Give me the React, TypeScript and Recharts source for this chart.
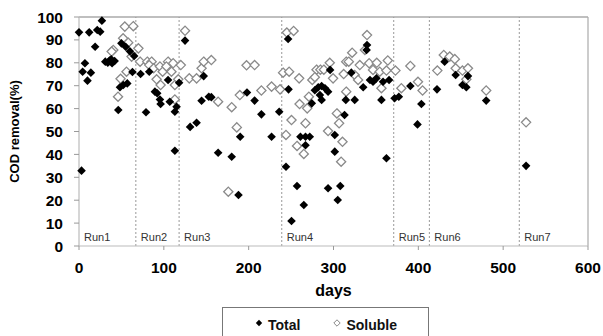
import React from 'react';
import {
  ScatterChart,
  Scatter,
  XAxis,
  YAxis,
  ReferenceLine,
  Legend,
} from 'recharts';

// [day, COD removal %]
const totalPoints: [number, number][] = [
  [0, 93.3], [3, 32.9], [12, 93.3], [21.5, 94.3], [25, 93.6], [27, 98.4], [19, 87],
  [7, 79.8], [4.3, 76.1], [14, 75.7], [10, 72.2], [31, 80.5], [34, 80], [36, 81],
  [39, 79.8], [42, 80.8], [38, 81.5], [46.3, 59.4], [48.3, 69.3], [52.2, 70.3],
  [56.9, 71], [50, 88.5], [55, 87], [60, 85], [65, 83], [63, 76],
  [72.6, 75.1], [79, 58.4], [82.8, 76.1], [89.5, 67.4], [92.2, 66.7], [95.4, 64],
  [96.2, 62], [105, 72.5], [107, 63], [113, 41.6], [115, 60.8], [113, 58.6], [118, 71.3],
  [125, 89.7], [131, 52], [138.6, 53.8], [144.5, 63.4], [147, 74.2], [153, 65.2],
  [156, 65], [164, 40.7], [180, 39], [188, 22.3], [190, 47.7], [198, 67], [207, 63.5],
  [215, 57.5], [227, 47.7], [236, 58.6],
  [244, 34.6], [246.5, 90.4], [247, 68.4], [250.5, 10.9], [257, 26.2], [265, 17.9],
  [261, 47.7], [267, 47.7], [272, 47.7], [267, 44], [274.4, 62.3], [278, 68],
  [282, 69.3], [286, 69.9], [290, 68.9], [293.6, 67.4], [284, 65.9], [286, 63.8],
  [296, 76.9], [293.6, 25.2], [301.5, 48.5], [301.5, 41.2], [305, 20.1], [308, 26.2],
  [313, 57.2], [314.5, 63.8], [321, 75.7], [325, 63.8], [335, 69.3], [339.5, 87.8],
  [339, 85.6], [343, 72.5], [346.6, 71.7], [350.6, 73.2], [356.5, 63.8], [358.4, 71.7],
  [362.4, 38.3], [365.5, 72.5],
  [372, 64.5], [377, 65.2], [390.6, 69.9], [399, 53.1], [403.6, 62],
  [422, 68.4], [431, 80.5], [444, 74.7], [452, 70.3], [456.6, 69.3], [458.5, 74.2], [480, 63.5],
  [527, 35],
];

const solublePoints: [number, number][] = [
  [54, 95.8], [64, 96], [40.4, 85.6], [38.5, 84.9], [52, 90.7], [58, 88.8], [62, 82.7],
  [70, 86.3], [72, 80.5], [56, 76.1], [49, 73], [46, 65.2],
  [80.5, 80.5], [85.6, 80.5], [82.8, 79], [88, 77.6], [91.5, 72.8], [95.4, 78.4],
  [98.6, 76.1], [96.2, 70.3], [105, 80.5], [103, 78.4], [111, 79.8], [109, 76.1],
  [113, 64], [113, 70.3], [117, 72.8],
  [120, 79], [125, 94], [130, 73.2], [138.6, 73.2], [144.5, 77.6], [147, 80.5],
  [156, 81.2], [164, 63], [180, 60.6], [186, 51.8], [176, 23.7], [189.6, 65.9],
  [197.5, 78.9], [207, 79], [215, 67.9], [227, 69.6], [237, 68.4],
  [240.6, 75.7], [247.7, 76.1], [245, 93.2], [253, 93.9], [244, 48.5], [250.5, 55],
  [260, 62], [259.5, 73.2], [257, 43.7], [265, 40.2], [267, 53.6], [269, 60.1],
  [271, 65.2], [275, 72.5], [280, 77], [284.5, 77], [288.6, 77], [278, 73.7],
  [295.6, 80], [299.5, 73.2], [293.6, 50.2], [304, 57.9], [306.6, 53.6], [310.6, 45.5],
  [309, 36.8], [315, 80.5], [315, 67.4], [312, 75.1], [339.5, 92.1], [337, 85.6],
  [322, 84.4], [318, 80.5], [331, 79], [325, 74.7], [329, 72.5], [342, 79.8],
  [346.6, 76.9], [351, 80], [354.5, 76.1], [356.5, 68.9], [364, 81], [362.4, 76.6],
  [373, 76.6], [380, 68.9], [390.6, 78.6], [399.6, 71.7], [405, 67.9],
  [422.4, 76.6], [430, 83.4], [437, 82.7], [443, 81.6], [444, 77.6], [452, 76.6],
  [458.5, 77.6], [456.6, 72.8], [480, 67.9],
  [527, 54],
];

const seriesNames = ['Total', 'Soluble'];
const runStarts = [0, 67, 118, 239, 371, 413, 519];
const runLabels = ['Run1', 'Run2', 'Run3', 'Run4', 'Run5', 'Run6', 'Run7'];

const xTicks = [0, 100, 200, 300, 400, 500, 600];
const yTicks = [0, 10, 20, 30, 40, 50, 60, 70, 80, 90, 100];

const totalData = totalPoints.map(([x, y]) => ({ x, y }));
const solubleData = solublePoints.map(([x, y]) => ({ x, y }));

const FONT = '"Liberation Sans", Arial, sans-serif';

const FilledDiamond = (props: any) => {
  const { cx, cy } = props;
  const r = 4.3;
  return (
    <polygon
      points={`${cx},${cy - r} ${cx + r},${cy} ${cx},${cy + r} ${cx - r},${cy}`}
      fill="#000"
    />
  );
};

const OpenDiamond = (props: any) => {
  const { cx, cy } = props;
  const r = 4.6;
  return (
    <polygon
      points={`${cx},${cy - r} ${cx + r},${cy} ${cx},${cy + r} ${cx - r},${cy}`}
      fill="#fff"
      stroke="#8a8a8a"
      strokeWidth={1.3}
    />
  );
};

const LegendContent = (props: any) => {
  const payload = [...(props.payload || [])].sort(
    (a: any, b: any) => seriesNames.indexOf(a.value) - seriesNames.indexOf(b.value)
  );
  return (
    <div
      style={{
        boxSizing: 'border-box',
        width: 207,
        height: 36,
        border: '1.5px solid #777',
        background: '#fff',
        display: 'flex',
        alignItems: 'center',
        paddingLeft: 32,
        fontFamily: FONT,
        fontWeight: 'bold',
        fontSize: 14,
        color: '#111',
      }}
    >
      {payload.map((entry: any, i: number) => {
        const filled = entry.value === 'Total';
        return (
          <div
            key={i}
            style={{ display: 'flex', alignItems: 'center', marginLeft: i === 0 ? 0 : 33 }}
          >
            <svg width={8} height={8} style={{ marginTop: -4 }}>
              <polygon
                points="4,0.8 7.2,4 4,7.2 0.8,4"
                fill={filled ? '#000' : '#fff'}
                stroke={filled ? 'none' : '#888'}
                strokeWidth={1}
              />
            </svg>
            <span style={{ marginLeft: 5 }}>{entry.value}</span>
          </div>
        );
      })}
    </div>
  );
};

export default function App() {
  return (
    <div style={{ position: 'absolute', left: 0, top: 0, background: '#fff' }}>
      <ScatterChart
        width={603}
        height={336}
        margin={{ top: 17, right: 15, bottom: 36, left: 0 }}
      >
        <XAxis
          type="number"
          dataKey="x"
          domain={[0, 600]}
          ticks={xTicks}
          interval={0}
          height={54}
          tickSize={4}
          tickMargin={12}
          axisLine={{ stroke: '#bbb', strokeWidth: 1.2 }}
          tickLine={{ stroke: '#999' }}
          tick={{ fill: '#000', fontSize: 15.5, fontWeight: 'bold', fontFamily: FONT }}
          label={{
            value: 'days',
            position: 'insideBottom',
            offset: 4,
            style: { fill: '#000', fontSize: 16, fontWeight: 'bold', fontFamily: FONT },
          }}
        />
        <YAxis
          type="number"
          dataKey="y"
          domain={[0, 100]}
          ticks={yTicks}
          interval={0}
          width={79}
          tickSize={5}
          tickMargin={11}
          axisLine={{ stroke: '#bbb', strokeWidth: 1.2 }}
          tickLine={{ stroke: '#999' }}
          tick={{ fill: '#000', fontSize: 15.5, fontWeight: 'bold', fontFamily: FONT }}
          label={{
            value: 'COD removal(%)',
            angle: -90,
            position: 'insideLeft',
            offset: 14,
            style: {
              textAnchor: 'middle',
              fill: '#000',
              fontSize: 13,
              fontWeight: 'bold',
              fontFamily: FONT,
            },
          }}
        />
        <ReferenceLine y={100} stroke="#aaa" strokeWidth={1.5} />
        <ReferenceLine x={600} stroke="#aaa" strokeWidth={1.2} />
        {runStarts.map((d, i) => (
          <ReferenceLine
            key={runLabels[i]}
            x={d}
            stroke={i === 0 ? 'none' : '#999'}
            strokeDasharray="2 2"
            strokeWidth={1}
            label={{
              value: runLabels[i],
              position: 'insideBottomLeft',
              offset: 5,
              style: { fill: '#333', fontSize: 11, fontFamily: FONT },
            }}
          />
        ))}
        <Legend
          layout="horizontal"
          verticalAlign="middle"
          align="center"
          wrapperStyle={{ left: 222, top: 307, width: 207, height: 36 }}
          content={<LegendContent />}
        />
        <Scatter
          name="Soluble"
          data={solubleData}
          fill="#fff"
          shape={OpenDiamond}
          isAnimationActive={false}
        />
        <Scatter
          name="Total"
          data={totalData}
          fill="#000"
          shape={FilledDiamond}
          isAnimationActive={false}
        />
      </ScatterChart>
    </div>
  );
}
